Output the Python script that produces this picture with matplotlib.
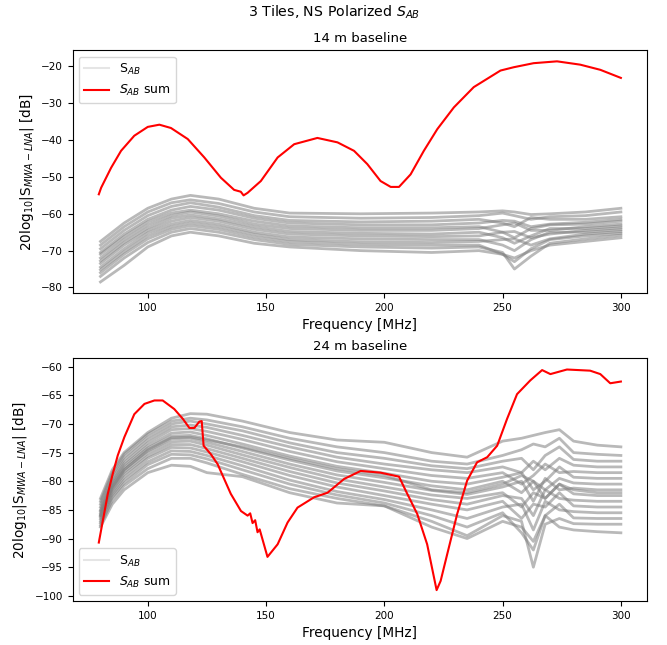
import numpy as np
import matplotlib
matplotlib.use("Agg")
from matplotlib import pyplot as plt

# ---- 14 m baseline ----
freq_14 = [80, 90, 100, 110, 118, 130, 145, 160, 190, 220, 240, 250, 255, 262, 270, 285, 300]
gray_14 = [
    [-67.5, -62.5, -58.5, -56.0, -55.0, -56.0, -58.5, -59.8, -60.0, -59.8, -59.5, -59.2, -59.5, -60.2, -60.0, -59.5, -58.5],
    [-68.5, -63.5, -59.5, -57.0, -56.2, -57.2, -59.5, -60.8, -61.2, -61.0, -60.5, -59.8, -60.5, -61.5, -60.8, -60.5, -59.5],
    [-69.5, -64.5, -60.5, -58.0, -57.0, -58.2, -60.5, -61.8, -62.2, -62.0, -61.5, -62.5, -63.5, -61.0, -61.5, -61.5, -60.8],
    [-70.5, -65.5, -61.5, -59.0, -58.0, -59.0, -61.2, -62.5, -63.0, -63.0, -62.5, -61.8, -62.0, -63.5, -62.8, -62.3, -61.5],
    [-71.0, -66.2, -62.2, -59.8, -59.0, -60.0, -62.0, -63.3, -63.8, -63.8, -63.5, -65.0, -66.5, -64.0, -63.0, -62.8, -62.0],
    [-72.0, -67.0, -63.0, -60.5, -59.5, -60.6, -62.8, -64.0, -64.5, -64.5, -64.0, -63.0, -62.5, -64.5, -64.5, -63.5, -62.8],
    [-72.8, -67.8, -63.8, -61.2, -60.3, -61.4, -63.5, -64.8, -65.3, -65.5, -65.0, -66.5, -68.0, -66.0, -64.0, -64.0, -63.3],
    [-73.5, -68.5, -64.5, -62.0, -61.0, -62.0, -64.2, -65.5, -66.0, -66.2, -66.0, -65.0, -64.8, -66.5, -65.5, -64.5, -63.8],
    [-74.5, -69.5, -65.2, -62.8, -61.8, -62.8, -65.0, -66.3, -66.8, -67.0, -67.0, -68.5, -70.0, -67.0, -65.0, -65.0, -64.3],
    [-75.2, -70.3, -66.0, -63.5, -62.5, -63.5, -65.6, -67.0, -67.6, -67.8, -67.5, -67.0, -66.8, -68.5, -66.8, -65.5, -64.8],
    [-76.0, -71.0, -66.8, -64.2, -63.2, -64.2, -66.3, -67.6, -68.3, -68.5, -68.5, -71.0, -73.0, -69.5, -67.0, -66.0, -65.3],
    [-77.0, -72.0, -67.8, -65.0, -64.0, -65.0, -67.0, -68.3, -69.0, -69.3, -69.0, -70.5, -75.0, -71.5, -68.0, -66.8, -65.8],
    [-78.5, -74.0, -69.0, -66.0, -65.0, -66.0, -68.0, -69.0, -70.0, -70.5, -70.0, -71.0, -72.0, -70.0, -68.5, -67.5, -66.5],
]
sum_freq_14 = [79.3, 80.3, 84.5, 88.7, 94.3, 100.0, 104.9, 109.8, 116.9, 123.9, 130.9, 136.5, 139.3,
               140.5, 142.2, 147.8, 154.9, 161.9, 171.7, 180.2, 187.2, 192.8, 198.4, 202.7, 206.2,
               211.1, 216.7, 222.4, 229.4, 237.8, 249.1, 254.7, 263.1, 273.0, 282.8, 291.3, 300.0]
sum_14 = [-54.7, -52.9, -47.5, -42.9, -38.8, -36.4, -35.8, -36.7, -39.7, -44.7, -50.2, -53.5, -54.0,
          -55.0, -54.3, -51.1, -44.7, -41.1, -39.4, -40.6, -42.9, -46.5, -51.1, -52.7, -52.7,
          -49.3, -42.9, -37.0, -31.1, -25.6, -21.1, -20.2, -19.1, -18.6, -19.5, -20.9, -23.1]

# ---- 24 m baseline ----
freq_24 = [80, 85, 90, 100, 110, 118, 125, 140, 160, 180, 200, 220, 235, 250, 258, 263, 268, 274, 280, 290, 300]
gray_24 = [
    [-83.0, -78.0, -75.0, -71.5, -69.0, -68.2, -68.3, -69.5, -71.5, -72.8, -73.2, -75.0, -75.8, -73.0, -72.5, -72.0, -71.5, -71.0, -73.0, -73.7, -74.0],
    [-83.5, -78.5, -75.3, -71.8, -69.5, -69.0, -69.3, -70.5, -72.5, -74.0, -75.0, -76.5, -77.0, -75.5, -74.5, -73.5, -74.0, -72.5, -75.0, -75.3, -75.5],
    [-84.0, -79.0, -75.8, -72.3, -70.0, -69.5, -70.0, -71.2, -73.3, -75.0, -76.0, -77.3, -77.8, -76.5, -76.0, -78.0, -75.5, -74.0, -76.2, -76.5, -76.5],
    [-84.5, -79.5, -76.3, -72.8, -70.5, -70.2, -70.6, -72.0, -74.0, -75.8, -77.0, -78.0, -78.5, -77.5, -78.5, -76.5, -78.0, -76.0, -77.2, -77.5, -77.5],
    [-85.0, -80.0, -76.8, -73.3, -71.0, -70.8, -71.3, -72.7, -74.8, -76.6, -77.8, -79.0, -79.5, -78.5, -80.5, -79.0, -77.0, -78.5, -78.3, -78.5, -78.5],
    [-85.2, -80.3, -77.2, -73.8, -71.6, -71.4, -72.0, -73.5, -75.6, -77.4, -78.6, -80.0, -80.5, -79.3, -78.5, -81.5, -80.0, -77.5, -79.3, -79.5, -79.5],
    [-85.5, -80.6, -77.6, -74.2, -72.1, -72.0, -72.6, -74.2, -76.3, -78.2, -79.4, -80.8, -81.5, -80.0, -82.0, -80.0, -81.5, -79.5, -80.3, -80.5, -80.5],
    [-85.8, -81.0, -78.0, -74.7, -72.6, -72.5, -73.2, -74.8, -77.0, -78.9, -80.2, -81.6, -82.3, -81.0, -80.0, -83.5, -79.5, -81.5, -81.2, -81.5, -81.5],
    [-86.0, -81.0, -78.0, -74.5, -72.4, -72.3, -72.8, -74.0, -76.0, -77.8, -79.0, -81.5, -82.0, -80.5, -79.0, -80.0, -83.0, -80.5, -81.5, -82.0, -82.0],
    [-86.0, -81.3, -78.4, -75.1, -73.1, -73.0, -73.7, -75.4, -77.6, -79.6, -81.0, -82.4, -83.0, -82.0, -84.5, -82.0, -83.0, -80.5, -82.2, -82.5, -82.5],
    [-86.3, -81.6, -78.8, -75.6, -73.6, -73.6, -74.3, -76.0, -78.3, -80.3, -81.7, -83.2, -84.0, -82.5, -83.0, -86.0, -81.5, -83.0, -83.3, -83.5, -83.5],
    [-86.6, -82.0, -79.3, -76.0, -74.1, -74.2, -74.9, -76.6, -79.0, -81.0, -82.5, -84.0, -85.0, -83.5, -86.5, -84.0, -84.5, -82.0, -84.3, -84.5, -84.5],
    [-87.0, -82.4, -79.8, -76.6, -74.7, -74.8, -75.5, -77.3, -79.8, -81.8, -83.2, -85.0, -86.5, -84.5, -84.0, -88.5, -83.5, -85.0, -85.3, -85.5, -85.5],
    [-87.3, -82.8, -80.3, -77.1, -75.3, -75.4, -76.1, -78.0, -80.5, -82.4, -83.8, -86.0, -88.0, -85.5, -89.0, -92.0, -86.0, -84.0, -86.4, -86.5, -86.5],
    [-87.7, -83.3, -80.8, -77.8, -76.0, -76.0, -76.8, -78.8, -81.3, -83.0, -84.3, -87.0, -89.5, -86.0, -87.0, -95.0, -87.5, -86.5, -87.4, -87.5, -87.5],
    [-88.0, -84.0, -81.5, -78.5, -77.2, -77.4, -78.5, -79.2, -82.0, -83.8, -84.3, -88.0, -90.0, -87.0, -88.0, -90.5, -86.0, -88.0, -88.5, -88.8, -89.0],
]
sum_freq_24 = [79.3, 81.0, 83.1, 85.2, 87.3, 90.1, 94.3, 98.6, 102.8, 106.3, 111.2, 114.8, 117.6,
               119.7, 121.8, 122.8, 123.6, 126.7, 129.5, 132.3, 135.1, 139.4, 142.2, 143.3, 144.3,
               145.4, 146.4, 147.3, 150.6, 154.9, 159.1, 163.3, 170.3, 176.0, 183.0, 190.0,
               198.4, 206.2, 209.7, 213.9, 218.1, 222.1, 223.8, 226.6, 230.8, 235.0, 239.2,
               243.5, 247.7, 251.9, 256.1, 261.7, 266.7, 270.2, 277.2, 287.0, 291.3, 295.5, 300.0]
sum_24 = [-90.7, -86.9, -82.2, -78.7, -75.5, -72.3, -68.3, -66.5, -65.9, -65.9, -67.4, -69.1, -70.7,
          -70.7, -69.6, -69.5, -73.8, -75.3, -77.0, -79.6, -82.2, -85.2, -86.0, -85.6, -87.3,
          -86.8, -88.9, -88.4, -93.2, -91.0, -87.2, -84.6, -82.8, -82.0, -79.6, -78.2,
          -78.5, -79.2, -82.2, -85.7, -91.0, -99.0, -97.4, -92.7, -85.7, -79.9, -76.7,
          -75.8, -73.8, -69.1, -64.8, -62.4, -60.6, -61.3, -60.5, -60.7, -61.3, -62.9, -62.6]

ylabel = r'20log$_{10}$|S$_{MWA-LNA}$| [dB]'

fig, axes = plt.subplots(2, 1, figsize=(6.67, 6.45), dpi=100)
plt.subplots_adjust(left=0.109, right=0.970, top=0.922, bottom=0.068, hspace=0.27)
fig.suptitle(r'3 Tiles, NS Polarized $S_{AB}$', fontsize=10.2, y=0.994, va='top')

panels = [
    (axes[0], freq_14, gray_14, sum_freq_14, sum_14, '14 m baseline', 'upper left'),
    (axes[1], freq_24, gray_24, sum_freq_24, sum_24, '24 m baseline', 'lower left'),
]
for ax, f, curves, sf, s, title, loc in panels:
    for i, c in enumerate(curves):
        ax.plot(f, c, color='gray', alpha=0.55, lw=2.0,
                label=r'S$_{AB}$' if i == 0 else None)
    ax.plot(sf, s, color='red', lw=1.5, label=r'$S_{AB}$ sum')
    ax.set_title(title, fontsize=9.5)
    ax.set_xlabel('Frequency [MHz]', fontsize=9.8)
    ax.set_ylabel(ylabel, fontsize=9.8)
    ax.tick_params(labelsize=7.5)
    leg = ax.legend(loc=loc, fontsize=9)
    leg.get_lines()[0].set_alpha(0.2)
    leg.get_lines()[0].set_linewidth(1.5)

fig.savefig('out.png', dpi=100)
